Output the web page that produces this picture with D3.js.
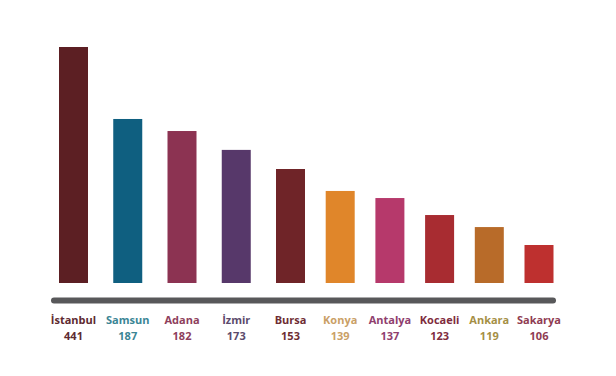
<!DOCTYPE html>
<html>
<head>
<meta charset="utf-8">
<script src="https://cdn.jsdelivr.net/npm/d3@7"></script>
<style>
  html, body { margin: 0; padding: 0; background: #fff; }
  svg { display: block; }
</style>
</head>
<body>
<svg id="chart" width="616" height="376"></svg>
<script>
// Data
const cities = ["İstanbul", "Samsun", "Adana", "İzmir", "Bursa", "Konya", "Antalya", "Kocaeli", "Ankara", "Sakarya"];
const values = [441, 187, 182, 173, 153, 139, 137, 123, 119, 106];
// Drawn bar height of each column, in % of the tallest bar (the infographic is not to scale)
const barLevels = [100, 69.5, 64.4, 56.4, 48.3, 39.0, 36.0, 28.8, 23.7, 16.1];
const barColors = ["#5c1f23", "#0f5f80", "#8c3352", "#57386a", "#6f2428", "#e0862a", "#b6396b", "#a82c31", "#b86b29", "#be302f"];
const labelColors = ["#5e2a31", "#3a8595", "#8e3e5c", "#5b4a6c", "#6e2d33", "#caa066", "#8f3e6e", "#7f2c3e", "#a58f45", "#8f3c52"];

const svg = d3.select("#chart");

// column centres: the infographic spaces the first five columns a little wider than the last five
const xIndex = d3.scaleLinear()
  .domain([0, 4, 9])
  .range([73.5, 290.5, 539]);
const barWidth = 29;
const cx = d => xIndex(cities.indexOf(d.city));

const y = d3.scaleLinear()
  .domain([0, 100])
  .range([283, 47]);

const data = cities.map((c, i) => ({ city: c, value: values[i], level: barLevels[i], color: barColors[i], lcolor: labelColors[i] }));

svg.append("g").selectAll("rect")
  .data(data)
  .join("rect")
  .attr("x", d => cx(d) - barWidth / 2)
  .attr("y", d => y(d.level))
  .attr("width", barWidth)
  .attr("height", d => y(0) - y(d.level))
  .attr("fill", d => d.color);

// baseline bar
svg.append("line")
  .attr("x1", 54).attr("x2", 553)
  .attr("y1", 300.5).attr("y2", 300.5)
  .attr("stroke", "#58585a")
  .attr("stroke-width", 6)
  .attr("stroke-linecap", "round");

const labels = svg.append("g")
  .attr("font-family", "'Open Sans', 'DejaVu Sans', sans-serif")
  .attr("font-weight", "bold")
  .attr("font-size", 11)
  .attr("text-anchor", "middle");

labels.selectAll("text.name")
  .data(data)
  .join("text")
  .attr("class", "name")
  .attr("x", cx)
  .attr("y", 324)
  .attr("fill", d => d.lcolor)
  .text(d => d.city);

labels.selectAll("text.val")
  .data(data)
  .join("text")
  .attr("class", "val")
  .attr("x", cx)
  .attr("y", 340)
  .attr("fill", d => d.lcolor)
  .text(d => d.value);
</script>
</body>
</html>
